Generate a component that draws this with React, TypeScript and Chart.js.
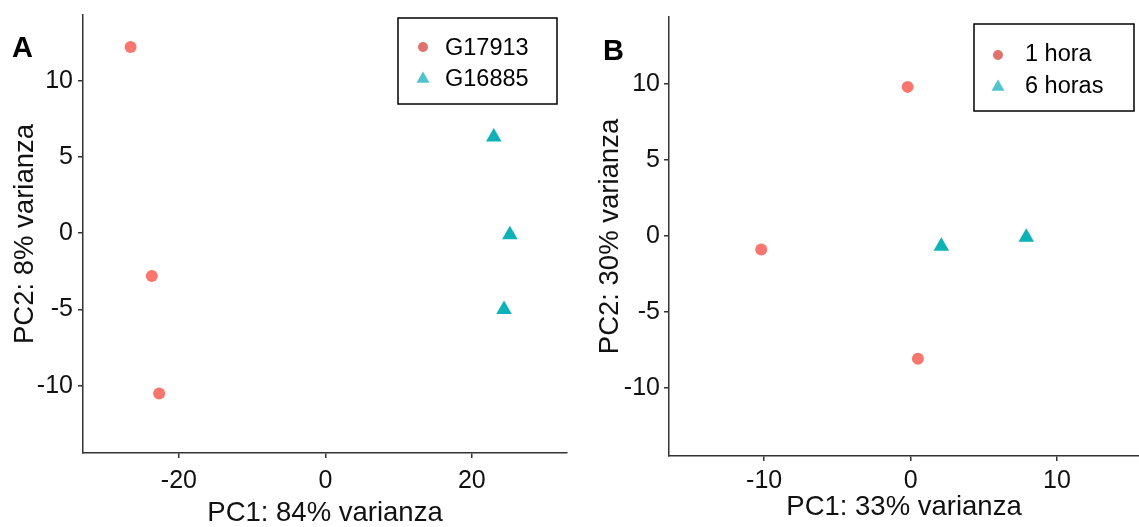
import React, { useEffect, useRef } from 'react';
import { Chart, registerables } from 'chart.js';

Chart.register(...registerables);

const FONT = '"Liberation Sans", Arial, Helvetica, sans-serif';
const AXIS = '#333333';
const TEXT = '#111111';
const HEIGHT = 527;

// Panel A: PCA by genotype
const g17913X = [-26.6, -23.7, -22.7];
const g17913Y = [12.2, -2.8, -10.5];
const g16885X = [23.0, 25.2, 24.4];
const g16885Y = [6.3, -0.1, -5.0];
const panelAXTicks = [-20, 0, 20];
const panelAYTicks = [-10, -5, 0, 5, 10];

// Panel B: PCA by sampling time
const hora1X = [-0.2, -10.2, 0.5];
const hora1Y = [9.8, -0.9, -8.1];
const horas6X = [2.1, 7.9];
const horas6Y = [-0.7, -0.1];
const panelBXTicks = [-10, 0, 10];
const panelBYTicks = [-10, -5, 0, 5, 10];

const RED = '#F8766D';
const TEAL = '#0CB2B6';
const RED_KEY = '#E0716B';
const TEAL_KEY = '#4FC4CB';

const toPoints = (xs: number[], ys: number[]) => xs.map((x, i) => ({ x, y: ys[i] }));

type Series = {
  label: string;
  xs: number[];
  ys: number[];
  shape: 'circle' | 'triangle';
  color: string;
  keyColor: string;
};

type PanelSpec = {
  left: number;
  width: number;
  letter: string;
  letterX: number;
  letterY: number;
  xTitle: string;
  yTitle: string;
  xMin: number;
  xMax: number;
  yMin: number;
  yMax: number;
  xTicks: number[];
  yTicks: number[];
  series: Series[];
  plot: { left: number; top: number; right: number; bottom: number };
  xTickPad: number;
  yTickPad: number;
  xTitlePad: number;
  yTitlePad: number;
  legend: {
    x: number;
    y: number;
    w: number;
    h: number;
    keyX: number;
    textX: number;
    keyY: number[];
    textY: number[];
  };
};

const panels: PanelSpec[] = [
  {
    left: 0,
    width: 570,
    letter: 'A',
    letterX: 12,
    letterY: 57,
    xTitle: 'PC1: 84% varianza',
    yTitle: 'PC2: 8% varianza',
    xMin: -33.1,
    xMax: 33.0,
    yMin: -14.4,
    yMax: 14.3,
    xTicks: panelAXTicks,
    yTicks: panelAYTicks,
    series: [
      { label: 'G17913', xs: g17913X, ys: g17913Y, shape: 'circle', color: RED, keyColor: RED_KEY },
      { label: 'G16885', xs: g16885X, ys: g16885Y, shape: 'triangle', color: TEAL, keyColor: TEAL_KEY },
    ],
    plot: { left: 83, top: 15, right: 567, bottom: 453 },
    xTickPad: 8,
    yTickPad: 5,
    xTitlePad: 0,
    yTitlePad: 12,
    legend: { x: 398, y: 18, w: 159, h: 86, keyX: 423, textX: 445, keyY: [47, 79], textY: [49, 80] },
  },
  {
    left: 570,
    width: 569,
    letter: 'B',
    letterX: 33,
    letterY: 60,
    xTitle: 'PC1: 33% varianza',
    yTitle: 'PC2: 30% varianza',
    xMin: -16.5,
    xMax: 15.6,
    yMin: -14.5,
    yMax: 14.4,
    xTicks: panelBXTicks,
    yTicks: panelBYTicks,
    series: [
      { label: '1 hora', xs: hora1X, ys: hora1Y, shape: 'circle', color: RED, keyColor: RED_KEY },
      { label: '6 horas', xs: horas6X, ys: horas6Y, shape: 'triangle', color: TEAL, keyColor: TEAL_KEY },
    ],
    plot: { left: 99, top: 17, right: 569, bottom: 456 },
    xTickPad: 5,
    yTickPad: 4,
    xTitlePad: 6,
    yTitlePad: 27,
    legend: { x: 404, y: 24, w: 160, h: 87, keyX: 428, textX: 455, keyY: [55, 87], textY: [55, 87] },
  },
];

// Boxed legend inside the plot plus the panel letter
const boxLegend = {
  id: 'boxLegend',
  afterDraw(chart: any, _args: any, opts: any) {
    const ctx = chart.ctx as CanvasRenderingContext2D;
    const lg = opts.legend;
    ctx.save();
    ctx.fillStyle = '#ffffff';
    ctx.fillRect(lg.x, lg.y, lg.w, lg.h);
    ctx.strokeStyle = '#000000';
    ctx.lineWidth = 1.5;
    ctx.strokeRect(lg.x, lg.y, lg.w, lg.h);

    chart.data.datasets.forEach((ds: any, i: number) => {
      const ky = lg.keyY[i];
      ctx.fillStyle = opts.keyColors[i];
      ctx.beginPath();
      if (ds.pointStyle === 'triangle') {
        const r = 7.5;
        for (let k = 0; k < 3; k++) {
          const a = (k * 2 * Math.PI) / 3;
          const px = lg.keyX + Math.sin(a) * r;
          const py = ky - Math.cos(a) * r;
          if (k === 0) ctx.moveTo(px, py);
          else ctx.lineTo(px, py);
        }
        ctx.closePath();
      } else {
        ctx.arc(lg.keyX, ky, 5, 0, Math.PI * 2);
      }
      ctx.fill();

      ctx.fillStyle = '#000000';
      ctx.font = `23.5px ${FONT}`;
      ctx.textAlign = 'left';
      ctx.textBaseline = 'middle';
      ctx.fillText(ds.label, lg.textX, lg.textY[i]);
    });

    ctx.fillStyle = '#000000';
    ctx.font = `bold 29px ${FONT}`;
    ctx.textAlign = 'left';
    ctx.textBaseline = 'alphabetic';
    ctx.fillText(opts.letter, opts.letterX, opts.letterY);
    ctx.restore();
  },
};

// Keep the plot frame exactly where the layout says: no extra room for edge labels
const clearPadding = (scale: any) => {
  scale.paddingLeft = 0;
  scale.paddingRight = 0;
  scale.paddingTop = 0;
  scale.paddingBottom = 0;
};

function PcaPanel({ spec }: { spec: PanelSpec }) {
  const canvasRef = useRef<HTMLCanvasElement | null>(null);

  useEffect(() => {
    if (!canvasRef.current) return;
    const s = spec;
    const axisGrid = {
      display: true,
      drawOnChartArea: false,
      drawTicks: true,
      tickLength: 5,
      color: AXIS,
      lineWidth: 1.5,
    };
    const chart = new Chart(canvasRef.current, {
      type: 'scatter',
      data: {
        datasets: s.series.map((se) => ({
          label: se.label,
          data: toPoints(se.xs, se.ys),
          pointStyle: se.shape,
          pointRadius: se.shape === 'triangle' ? 9 : 6,
          pointBackgroundColor: se.color,
          pointBorderWidth: 0,
          pointBorderColor: se.color,
          backgroundColor: se.color,
          borderColor: se.color,
          showLine: false,
          clip: false,
        })),
      },
      options: {
        animation: false,
        responsive: true,
        maintainAspectRatio: false,
        events: [],
        layout: {
          autoPadding: false,
          padding: { left: 0, top: s.plot.top, right: s.width - s.plot.right, bottom: 0 },
        },
        plugins: {
          legend: { display: false },
          tooltip: { enabled: false },
          boxLegend: {
            legend: s.legend,
            keyColors: s.series.map((se) => se.keyColor),
            letter: s.letter,
            letterX: s.letterX,
            letterY: s.letterY,
          },
        } as any,
        scales: {
          x: {
            type: 'linear',
            min: s.xMin,
            max: s.xMax,
            afterBuildTicks: (scale: any) => {
              scale.ticks = s.xTicks.map((v) => ({ value: v }));
            },
            afterFit: (scale: any) => {
              scale.height = HEIGHT - s.plot.bottom;
              clearPadding(scale);
            },
            border: { display: true, color: AXIS, width: 1.5 },
            grid: axisGrid,
            ticks: {
              color: TEXT,
              font: { family: FONT, size: 25 },
              padding: s.xTickPad,
              maxRotation: 0,
              autoSkip: false,
            },
            title: {
              display: true,
              text: s.xTitle,
              color: TEXT,
              font: { family: FONT, size: 27.5, lineHeight: 1 },
              padding: { top: 0, bottom: s.xTitlePad },
            },
          },
          y: {
            type: 'linear',
            min: s.yMin,
            max: s.yMax,
            afterBuildTicks: (scale: any) => {
              scale.ticks = s.yTicks.map((v) => ({ value: v }));
            },
            afterFit: (scale: any) => {
              scale.width = s.plot.left;
              clearPadding(scale);
            },
            border: { display: true, color: AXIS, width: 1.5 },
            grid: axisGrid,
            ticks: {
              color: TEXT,
              font: { family: FONT, size: 25 },
              padding: s.yTickPad,
              autoSkip: false,
            },
            title: {
              display: true,
              text: s.yTitle,
              color: TEXT,
              font: { family: FONT, size: 27.5, lineHeight: 1 },
              padding: { top: s.yTitlePad, bottom: 0 },
            },
          },
        },
      } as any,
      plugins: [boxLegend as any],
    });
    return () => chart.destroy();
  }, [spec]);

  return (
    <div
      style={{
        position: 'absolute',
        left: spec.left,
        top: 0,
        width: spec.width,
        height: HEIGHT,
      }}
    >
      <canvas ref={canvasRef} />
    </div>
  );
}

export default function App() {
  return (
    <div
      style={{
        position: 'absolute',
        left: 0,
        top: 0,
        width: 1139,
        height: HEIGHT,
        background: '#ffffff',
        overflow: 'hidden',
      }}
    >
      {panels.map((p) => (
        <PcaPanel key={p.letter} spec={p} />
      ))}
    </div>
  );
}
